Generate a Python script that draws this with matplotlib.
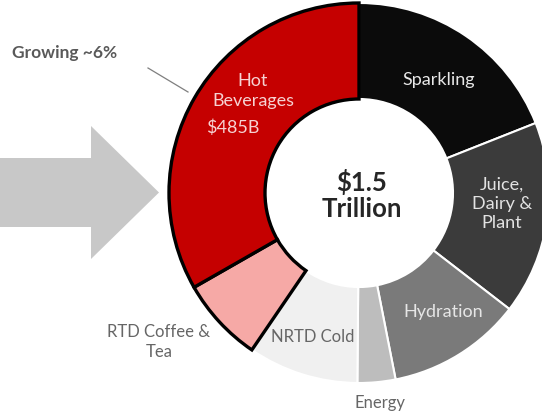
import matplotlib
matplotlib.use('Agg')
import matplotlib.pyplot as plt
import matplotlib.patches as mpatches

plt.rcParams['font.family'] = ['Lato', 'DejaVu Sans']

# beverage market segments, $B, clockwise from 12 o'clock
segments = ['Sparkling', 'Juice, Dairy & Plant', 'Hydration', 'Energy',
            'NRTD Cold', 'RTD Coffee & Tea', 'Hot Beverages']
sales_bn = [277, 240, 167, 47, 137, 105, 485]
colors = ['#0b0b0b', '#3b3b3b', '#7a7a7a', '#bdbdbd', '#f0f0f0', '#f6a9a6', '#c50000']
highlight = ['RTD Coffee & Tea', 'Hot Beverages']

total_label = '$1.5\nTrillion'
growth_note = 'Growing ~6%'

W, H = 542, 415
fig = plt.figure(figsize=(W / 100, H / 100), dpi=100)
ax = fig.add_axes([0, 0, 1, 1])

cx, cy, R = 359, 222, 190
wedges, _ = ax.pie(sales_bn, colors=colors, startangle=90, counterclock=False,
                   radius=R, center=(cx, cy), frame=True,
                   wedgeprops=dict(width=96, edgecolor='white', linewidth=1.5))
for w, name in zip(wedges, segments):
    if name in highlight:
        w.set_edgecolor('black')
        w.set_linewidth(2.4)
        w.set_zorder(3)

# big grey arrow pointing into the ring
ax.add_patch(mpatches.FancyArrow(0, 222.5, 159, 0, width=69, head_width=133,
                                 head_length=68, length_includes_head=True,
                                 color='#c8c8c8', lw=0))

ax.text(12, 362, growth_note, fontsize=12.5, fontweight='bold', color='#595959',
        ha='left', va='center')
ax.plot([148, 188], [347, 323], color='#7f7f7f', lw=0.9)

ax.text(cx + 3, cy - 2, total_label, fontsize=18.5, fontweight='bold', color='#262626',
        ha='center', va='center', linespacing=1.1)

inner = dict(fontsize=13, ha='center', va='center')
outer = dict(fontsize=12, color='#666666', ha='center', va='center')
ax.text(253, 324, 'Hot\nBeverages', color='#f6d2d2', linespacing=1.25, **inner)
ax.text(206, 287, '$485B', color='#f6d2d2', fontsize=13, ha='left', va='center')
ax.text(439, 335, 'Sparkling', color='#e8e8e8', **inner)
ax.text(502, 211, 'Juice,\nDairy &\nPlant', color='#e2e2e2', linespacing=1.25, **inner)
ax.text(443, 103, 'Hydration', color='#e6e6e6', **inner)
ax.text(313, 78, 'NRTD Cold', **outer)
ax.text(380, 12, 'Energy', **outer)
ax.text(159, 73, 'RTD Coffee &\nTea', linespacing=1.3, **outer)

ax.set_xlim(0, W)
ax.set_ylim(0, H)
ax.set_aspect('equal')
ax.axis('off')

fig.savefig('out.png', dpi=100, facecolor='white')
